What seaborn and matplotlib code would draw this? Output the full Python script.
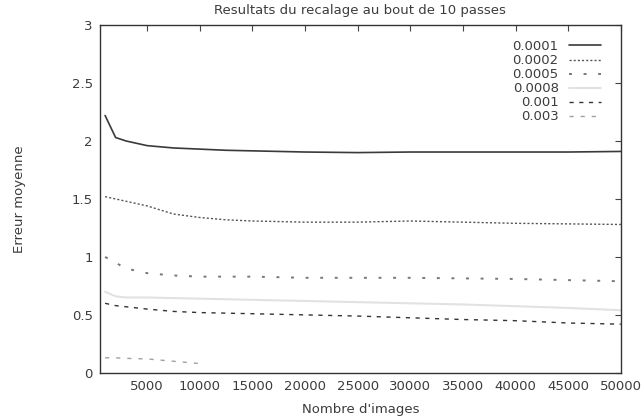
import numpy as np
import pandas as pd
import matplotlib
matplotlib.use("Agg")
import matplotlib.pyplot as plt
import seaborn as sns

# ---- data ----
images = [1000, 2000, 3000, 5000, 7500, 10000, 12500, 15000, 20000,
          25000, 30000, 35000, 40000, 45000, 50000]
err_0001 = [2.22, 2.03, 2.00, 1.96, 1.94, 1.93, 1.92, 1.915, 1.905,
            1.90, 1.905, 1.905, 1.905, 1.905, 1.91]
err_0002 = [1.52, 1.50, 1.48, 1.44, 1.37, 1.34, 1.32, 1.31, 1.30,
            1.30, 1.31, 1.30, 1.29, 1.285, 1.28]
err_0005 = [1.00, 0.95, 0.90, 0.86, 0.84, 0.83, 0.83, 0.83, 0.82,
            0.82, 0.82, 0.815, 0.81, 0.80, 0.79]
err_0008 = [0.70, 0.66, 0.65, 0.65, 0.645, 0.64, 0.635, 0.63, 0.62,
            0.61, 0.60, 0.59, 0.575, 0.56, 0.54]
err_001 = [0.60, 0.58, 0.57, 0.55, 0.53, 0.52, 0.515, 0.51, 0.50,
           0.49, 0.475, 0.46, 0.45, 0.43, 0.42]
err_003 = [0.13, 0.13, 0.125, 0.12, 0.10, 0.08, np.nan, np.nan, np.nan,
           np.nan, np.nan, np.nan, np.nan, np.nan, np.nan]
labels = ["0.0001", "0.0002", "0.0005", "0.0008", "0.001", "0.003"]
yticks = [0, 0.5, 1, 1.5, 2, 2.5, 3]
ytick_labels = ["0", "0.5", "1", "1.5", "2", "2.5", "3"]
xticks = [5000, 10000, 15000, 20000, 25000, 30000, 35000, 40000, 45000, 50000]

series = [err_0001, err_0002, err_0005, err_0008, err_001, err_003]
styles = [
    dict(color="#3a3a3a", linestyle="-", linewidth=1.2),
    dict(color="#555555", linestyle=(0, (1.5, 1.5)), linewidth=1.0),
    dict(color="#777777", linestyle=(0, (1.5, 6)), linewidth=1.4),
    dict(color="#e2e2e2", linestyle="-", linewidth=1.5),
    dict(color="#333333", linestyle=(0, (3, 4)), linewidth=1.0),
    dict(color="#a0a0a0", linestyle=(0, (3, 5)), linewidth=1.0),
]

sns.set_style("white")
plt.rcParams["font.family"] = ["DejaVu Sans"]
TXT = "#3c3c3c"
FS = 9.5

fig = plt.figure(figsize=(6.44, 4.18), dpi=100)
ax = fig.add_axes([0.155, 0.108, 0.809, 0.832])

for lab, ys, st in zip(labels, series, styles):
    df = pd.DataFrame({"x": images, "y": ys}).dropna()
    sns.lineplot(data=df, x="x", y="y", ax=ax, label=lab, **st)

ax.set_xlim(500, 50000)
ax.set_ylim(0, 3)
ax.set_xticks(xticks)
ax.set_xticklabels([str(t) for t in xticks])
ax.set_yticks(yticks)
ax.set_yticklabels(ytick_labels)
ax.tick_params(direction="in", length=4, width=0.8, top=True, right=True,
               labelsize=FS, colors="#444444", labelcolor=TXT, pad=5)
for s in ax.spines.values():
    s.set_color("#333333")
    s.set_linewidth(1.0)

ax.set_title("Resultats du recalage au bout de 10 passes", fontsize=FS,
             color=TXT, pad=8)
ax.set_xlabel("Nombre d'images", fontsize=FS, color=TXT, labelpad=7)
ax.set_ylabel("Erreur moyenne", fontsize=FS, color=TXT, labelpad=33)

leg = ax.legend(loc="upper right", bbox_to_anchor=(0.972, 0.972),
                borderaxespad=0, frameon=False, markerfirst=False,
                fontsize=FS, handlelength=2.4, labelspacing=0.08,
                handletextpad=0.8)
for t in leg.get_texts():
    t.set_color(TXT)
    t.set_ha("right")

fig.savefig("out.png", dpi=100)
